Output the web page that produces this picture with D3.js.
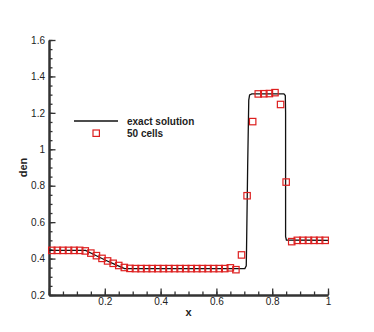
<!doctype html>
<html>
  <head>
    <script src="https://cdnjs.cloudflare.com/ajax/libs/d3/7.8.5/d3.min.js" type="text/javascript"></script>
    <style>
      body { margin: 0; background: white; }
      text { font-family: "Liberation Sans", Arial, sans-serif; fill: #222; }
      .axis path, .axis line { stroke: #333; }
      .axis path { stroke-width: 2px; }
      .axis line { stroke-width: 1.3px; }
      .axis text { font-size: 10px; fill: #222; }
      .title { font-size: 11px; font-weight: bold; }
      .legend text { font-size: 10px; font-weight: bold; }
    </style>
  </head>
  <body>
    <svg style="width:374px;height:332px;"></svg>
    <script>
      // exact solution
      var exactX =   [0, 0.131, 0.166, 0.201, 0.236, 0.271, 0.702, 0.707, 0.708, 0.712, 0.716, 0.719, 0.727, 0.842, 0.847, 0.848, 0.848, 0.851, 1];
      var exactDen = [0.445, 0.445, 0.418, 0.392, 0.368, 0.345, 0.345, 0.36, 0.45, 0.9, 1.27, 1.298, 1.304, 1.304, 1.295, 1.2, 0.52, 0.502, 0.5];

      // 50 cells, cell centres
      var cellX = [0.01, 0.03, 0.05, 0.07, 0.09, 0.11, 0.13, 0.15, 0.17, 0.19,
                   0.21, 0.23, 0.25, 0.27, 0.29, 0.31, 0.33, 0.35, 0.37, 0.39,
                   0.41, 0.43, 0.45, 0.47, 0.49, 0.51, 0.53, 0.55, 0.57, 0.59,
                   0.61, 0.63, 0.65, 0.67, 0.69, 0.71, 0.73, 0.75, 0.77, 0.79,
                   0.81, 0.83, 0.85, 0.87, 0.89, 0.91, 0.93, 0.95, 0.97, 0.99];
      var cellDen = [0.445, 0.445, 0.445, 0.445, 0.445, 0.445, 0.442, 0.430, 0.416, 0.401,
                     0.387, 0.374, 0.362, 0.351, 0.346, 0.345, 0.345, 0.345, 0.345, 0.345,
                     0.345, 0.345, 0.345, 0.345, 0.345, 0.345, 0.345, 0.345, 0.345, 0.345,
                     0.345, 0.345, 0.349, 0.339, 0.42, 0.745, 1.152, 1.304, 1.305, 1.306,
                     1.311, 1.246, 0.82, 0.493, 0.5, 0.5, 0.5, 0.5, 0.5, 0.5];

      var xTicks = [0, 0.2, 0.4, 0.6, 0.8, 1];
      var yTicks = [0.2, 0.4, 0.6, 0.8, 1, 1.2, 1.4, 1.6];

      var svg = d3.select("svg");
      var x = d3.scaleLinear().domain([0, 1]).range([49, 328]);
      var y = d3.scaleLinear().domain([0.2, 1.6]).range([295, 40]);
      var fmt = d3.format("~g");

      // minor ticks
      svg.append("g").attr("class", "axis")
          .attr("transform", "translate(0,295)")
          .call(d3.axisBottom(x).tickValues(d3.range(0, 1.0001, 0.05)).tickSizeInner(-3.5).tickSizeOuter(0).tickFormat(""));
      svg.append("g").attr("class", "axis")
          .attr("transform", "translate(49,0)")
          .call(d3.axisLeft(y).tickValues(d3.range(0.2, 1.6001, 0.05)).tickSizeInner(-3.5).tickSizeOuter(0).tickFormat(""));

      // major ticks
      svg.append("g").attr("class", "axis")
          .attr("transform", "translate(0,295)")
          .call(d3.axisBottom(x).tickValues(xTicks).tickSizeInner(-6.5).tickSizeOuter(0).tickPadding(3)
            .tickFormat(d => d === 0 ? "" : fmt(d)));
      svg.append("g").attr("class", "axis")
          .attr("transform", "translate(49,0)")
          .call(d3.axisLeft(y).tickValues(yTicks).tickSizeInner(-6.5).tickSizeOuter(0).tickPadding(4)
            .tickFormat(fmt));

      svg.append("text").attr("class", "title")
          .attr("x", x(0.5)).attr("y", 316)
          .attr("text-anchor", "middle").text("x");
      svg.append("text").attr("class", "title")
          .attr("transform", "translate(27," + y(0.9) + ") rotate(-90)")
          .attr("text-anchor", "middle").text("den");

      var line = d3.line().x(d => x(d[0])).y(d => y(d[1]));
      svg.append("path")
          .datum(d3.zip(exactX, exactDen))
          .attr("d", line)
          .attr("fill", "none").attr("stroke", "#111").attr("stroke-width", 1.3);

      svg.append("g").selectAll("rect")
          .data(d3.zip(cellX, cellDen))
          .enter().append("rect")
            .attr("x", d => x(d[0]) - 3.2).attr("y", d => y(d[1]) - 3.2)
            .attr("width", 6.4).attr("height", 6.4)
            .attr("fill", "none").attr("stroke", "#dd1f1f").attr("stroke-width", 1.2);

      // legend
      var lg = svg.append("g").attr("class", "legend");
      lg.append("line").attr("x1", 74).attr("x2", 118).attr("y1", 121).attr("y2", 121)
          .attr("stroke", "#111").attr("stroke-width", 1.3);
      lg.append("text").attr("x", 127).attr("y", 125).text("exact solution");
      lg.append("rect").attr("x", 93).attr("y", 130).attr("width", 6.4).attr("height", 6.4)
          .attr("fill", "none").attr("stroke", "#dd1f1f").attr("stroke-width", 1.2);
      lg.append("text").attr("x", 127).attr("y", 137).text("50 cells");
    </script>
  </body>
</html>
